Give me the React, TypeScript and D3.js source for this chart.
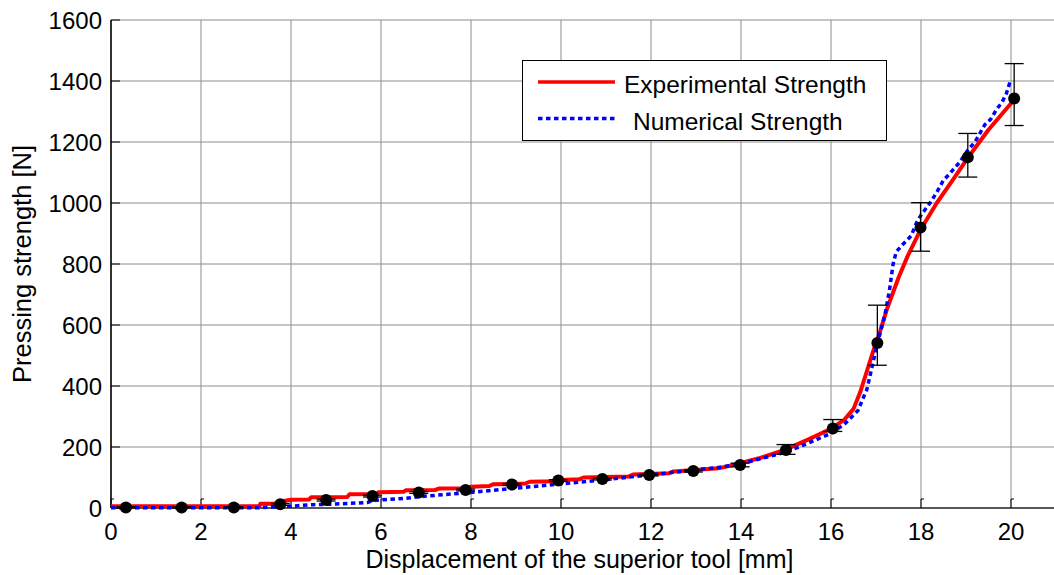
import React from "react";
import * as d3 from "d3";

const xTicks = [0, 2, 4, 6, 8, 10, 12, 14, 16, 18, 20];
const yTicks = [0, 200, 400, 600, 800, 1000, 1200, 1400, 1600];

// Experimental strength curve (red, solid)
const expX = [0, 3.3, 3.32, 3.75, 3.8, 4.0, 4.4, 4.45, 5.25, 5.3, 5.9, 5.95, 6.5, 6.55, 7.2, 7.3, 7.9, 8.0, 8.4, 8.5, 9.2, 9.3, 9.9, 10.0, 10.4, 10.5, 11.5, 11.6, 12.4, 12.5, 13.5, 13.8, 14.0, 14.4, 15.0, 15.5, 16.0, 16.3, 16.5, 16.65, 16.8, 16.95, 17.05, 17.25, 17.5, 17.7, 18.0, 18.35, 18.75, 19.05, 19.5, 20.05];
const expY = [6, 6, 14, 14, 22, 27, 28, 35, 36, 45, 46, 52, 53, 58, 59, 64, 65, 70, 72, 78, 80, 86, 88, 92, 94, 100, 103, 110, 114, 120, 130, 140, 148, 163, 192, 225, 260, 290, 325, 380, 450, 520, 560, 655, 755, 825, 915, 1000, 1085, 1150, 1240, 1335];

// Numerical strength curve (blue, dotted)
const numX = [0, 3.3, 3.6, 4.0, 4.5, 5.0, 5.7, 5.8, 6.0, 6.5, 7.0, 7.5, 8.0, 8.5, 9.0, 9.5, 10.0, 10.5, 11.0, 11.5, 12.0, 12.5, 13.0, 13.5, 14.0, 14.5, 15.0, 15.5, 16.0, 16.3, 16.6, 16.8, 17.0, 17.2, 17.3, 17.38, 17.45, 17.6, 17.7, 17.78, 17.9, 18.0, 18.2, 18.35, 18.5, 18.6, 18.85, 19.05, 19.2, 19.42, 19.55, 19.68, 19.8, 19.9, 19.98];
const numY = [1, 1, 3, 6, 11, 13, 18, 24, 27, 31, 39, 45, 51, 58, 65, 72, 79, 86, 93, 101, 109, 117, 125, 133, 145, 164, 183, 213, 245, 275, 320, 390, 520, 635, 715, 800, 840, 865, 880, 892, 935, 960, 1000, 1035, 1075, 1090, 1132, 1175, 1200, 1257, 1275, 1307, 1330, 1360, 1398];

// Experimental mean points with error bars
const ptX = [0.33, 1.57, 2.73, 3.76, 4.78, 5.81, 6.84, 7.88, 8.91, 9.94, 10.92, 11.96, 12.94, 13.98, 15.0, 16.04, 17.03, 17.99, 19.04, 20.07];
const ptY = [2, 2, 2, 12, 26, 39, 51, 59, 77, 90, 95, 108, 121, 141, 190, 261, 541, 920, 1150, 1343];
const ptLow = [2, 2, 2, 3, 3, 3, 3, 3, 3, 3, 3, 3, 3, 6, 14, 10, 73, 78, 65, 89];
const ptHigh = [2, 2, 2, 3, 3, 3, 3, 3, 3, 3, 3, 3, 3, 6, 18, 29, 124, 81, 78, 114];

const legendLabels = ["Experimental Strength", "Numerical Strength"];

const W = 1054;
const H = 575;
const left = 111;
const right = 1056;
const top = 20;
const bottom = 508;
const FONT = "Arial, 'Liberation Sans', Helvetica, sans-serif";

export default function App() {
  const x = d3.scaleLinear().domain([0, 21]).range([left, right]);
  const y = d3.scaleLinear().domain([0, 1600]).range([bottom, top]);

  const line = d3
    .line<[number, number]>()
    .x((d) => x(d[0]))
    .y((d) => y(d[1]));

  const expData = expX.map((v, i) => [v, expY[i]] as [number, number]);
  const numData = numX.map((v, i) => [v, numY[i]] as [number, number]);

  return (
    <svg
      width={W}
      height={H}
      style={{ position: "absolute", left: 0, top: 0, background: "#fff" }}
      fontFamily={FONT}
    >
      <rect x={0} y={0} width={W} height={H} fill="#fff" />
      {/* grid */}
      {xTicks.map((t) => (
        <line key={"gx" + t} x1={x(t)} x2={x(t)} y1={top} y2={bottom} stroke="#8c8c8c" strokeWidth={1} />
      ))}
      {yTicks.map((t) => (
        <line key={"gy" + t} x1={left} x2={right} y1={y(t)} y2={y(t)} stroke="#8c8c8c" strokeWidth={1} />
      ))}
      {/* axes */}
      <line x1={left} x2={left} y1={top} y2={bottom} stroke="#000" strokeWidth={1.5} />
      <line x1={left} x2={right} y1={bottom} y2={bottom} stroke="#333" strokeWidth={1.5} />
      {yTicks.map((t) => (
        <line key={"ty" + t} x1={left} x2={left + 9} y1={y(t)} y2={y(t)} stroke="#000" strokeWidth={1} />
      ))}
      {xTicks.map((t) => (
        <g key={"tx" + t}>
          <line x1={x(t)} x2={x(t)} y1={bottom} y2={bottom - 9} stroke="#000" strokeWidth={1} />
          <line x1={x(t)} x2={x(t) + 3} y1={bottom - 9} y2={bottom - 9} stroke="#000" strokeWidth={1} />
        </g>
      ))}
      {/* tick labels */}
      {yTicks.map((t) => (
        <text key={"ly" + t} x={left - 9} y={y(t) + 9} textAnchor="end" fontSize={24} fill="#000">
          {t}
        </text>
      ))}
      {xTicks.map((t) => (
        <text key={"lx" + t} x={x(t)} y={540} textAnchor="middle" fontSize={24} fill="#000">
          {t}
        </text>
      ))}
      {/* axis labels */}
      <text x={(left + right) / 2 - 4} y={568} textAnchor="middle" fontSize={25} fill="#000">
        Displacement of the superior tool [mm]
      </text>
      <text
        transform={`translate(31, ${(top + bottom) / 2}) rotate(-90)`}
        textAnchor="middle"
        fontSize={25.5}
        fill="#000"
      >
        Pressing strength [N]
      </text>
      {/* curves */}
      <path d={line(expData) || ""} fill="none" stroke="#ff0000" strokeWidth={4} strokeLinejoin="round" />
      <path
        d={line(numData) || ""}
        fill="none"
        stroke="#0000ff"
        strokeWidth={3.5}
        strokeDasharray="4.5,3.5"
      />
      {/* error bars */}
      {ptX.map((v, i) => {
        const lo = y(ptY[i] - ptLow[i]);
        const hi = y(ptY[i] + ptHigh[i]);
        const cx = x(v);
        return (
          <g key={"eb" + i} stroke="#000" strokeWidth={1.3}>
            <line x1={cx} x2={cx} y1={lo} y2={hi} />
            <line x1={cx - 9.5} x2={cx + 9.5} y1={lo} y2={lo} />
            <line x1={cx - 9.5} x2={cx + 9.5} y1={hi} y2={hi} />
          </g>
        );
      })}
      {ptX.map((v, i) => (
        <circle key={"pt" + i} cx={x(v)} cy={y(ptY[i])} r={6} fill="#000" />
      ))}
      {/* legend */}
      <rect x={522.5} y={60.5} width={364} height={80} fill="#fff" stroke="#000" strokeWidth={1} />
      <line x1={538} x2={615} y1={82} y2={82} stroke="#ff0000" strokeWidth={3.5} />
      <text x={624} y={93} fontSize={24.5} fill="#000">
        {legendLabels[0]}
      </text>
      <line x1={538} x2={615} y1={118.5} y2={118.5} stroke="#0000ff" strokeWidth={3.5} strokeDasharray="4.5,3.5" />
      <text x={633} y={130} fontSize={24.5} fill="#000">
        {legendLabels[1]}
      </text>
    </svg>
  );
}
